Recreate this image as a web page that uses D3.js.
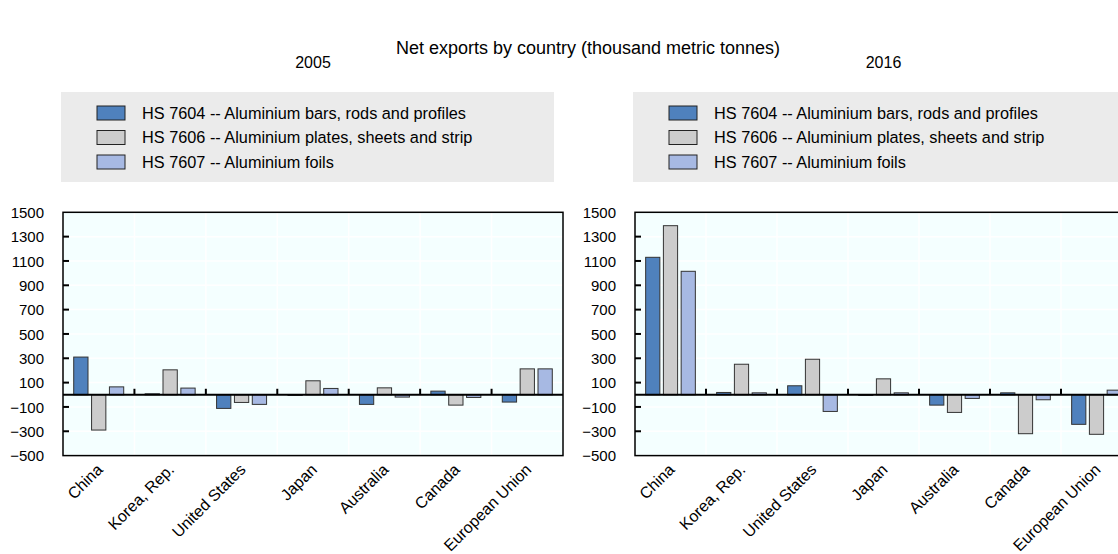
<!DOCTYPE html>
<html>
<head>
<meta charset="utf-8">
<script src="https://cdn.jsdelivr.net/npm/d3@7"></script>
<style>
  html, body { margin: 0; padding: 0; background: #ffffff; }
  svg { display: block; font-family: "Liberation Sans", Arial, sans-serif; }
</style>
</head>
<body>
<svg id="chart" width="1118" height="554"></svg>
<script>
// ---------- DATA ----------
const categories = ["China", "Korea, Rep.", "United States", "Japan", "Australia", "Canada", "European Union"];
const seriesNames = [
  "HS 7604 -- Aluminium bars, rods and profiles",
  "HS 7606 -- Aluminium plates, sheets and strip",
  "HS 7607 -- Aluminium foils"
];
const seriesColors = ["#4F81BD", "#CCCCCC", "#A7B9E3"];
const years = ["2005", "2016"];

// 2005
const hs7604_2005 = [310, 8, -112, -5, -79, 30, -60];
const hs7606_2005 = [-290, 205, -63, 115, 57, -85, 213];
const hs7607_2005 = [65, 55, -79, 52, -19, -22, 213];
// 2016
const hs7604_2016 = [1130, 19, 74, -5, -85, 16, -243];
const hs7606_2016 = [1390, 251, 292, 131, -145, -320, -325];
const hs7607_2016 = [1015, 16, -137, 16, -30, -41, 38];

const yTicks = [1500, 1300, 1100, 900, 700, 500, 300, 100, -100, -300, -500];
const yDomain = [-500, 1500];

const mainTitle = "Net exports by country (thousand metric tonnes)";

const panelsData = [
  [hs7604_2005, hs7606_2005, hs7607_2005],
  [hs7604_2016, hs7606_2016, hs7607_2016]
];

// ---------- LAYOUT ----------
const svg = d3.select("#chart");
const panels = [
  { x: 63, w: 500, year: years[0], data: panelsData[0] },
  { x: 635, w: 497, year: years[1], data: panelsData[1] }
];
const plotTop = 212.3, plotH = 243.3;

svg.append("text")
  .attr("x", 588).attr("y", 54)
  .attr("text-anchor", "middle")
  .attr("font-size", 18)
  .attr("fill", "#000")
  .text(mainTitle);

panels.forEach(p => {
  const g = svg.append("g");
  const x0 = d3.scaleBand().domain(categories).range([p.x, p.x + p.w]).paddingInner(0).paddingOuter(0);
  const bandW = x0.bandwidth();
  const x1 = d3.scaleBand().domain(d3.range(3)).range([bandW * 0.15, bandW * 0.85]).paddingInner(0.2).paddingOuter(0);
  const y = d3.scaleLinear().domain(yDomain).range([plotTop + plotH, plotTop]);

  // subplot title
  g.append("text")
    .attr("x", p.x + p.w / 2).attr("y", 68)
    .attr("text-anchor", "middle")
    .attr("font-size", 16)
    .text(p.year);

  // legend
  const lg = g.append("g");
  lg.append("rect")
    .attr("x", p.x - 2).attr("y", 92)
    .attr("width", 493).attr("height", 90)
    .attr("fill", "#EBEBEB");
  seriesNames.forEach((s, i) => {
    const yy = 106 + i * 24.5;
    lg.append("rect")
      .attr("x", p.x + 34).attr("y", yy)
      .attr("width", 28).attr("height", 14)
      .attr("fill", seriesColors[i])
      .attr("stroke", "#222").attr("stroke-width", 1);
    lg.append("text")
      .attr("x", p.x + 79).attr("y", yy + 12.5)
      .attr("font-size", 16.3)
      .text(s);
  });

  // plot background
  g.append("rect")
    .attr("x", p.x).attr("y", plotTop)
    .attr("width", p.w).attr("height", plotH)
    .attr("fill", "#F4FFFF");

  // horizontal grid
  g.selectAll(".hg").data(yTicks).enter().append("line")
    .attr("x1", p.x).attr("x2", p.x + p.w)
    .attr("y1", d => y(d)).attr("y2", d => y(d))
    .attr("stroke", "#ffffff").attr("stroke-width", 1.5);

  // vertical grid at band boundaries
  const bounds = categories.slice(1).map(c => x0(c));
  g.selectAll(".vg").data(bounds).enter().append("line")
    .attr("x1", d => d).attr("x2", d => d)
    .attr("y1", plotTop).attr("y2", plotTop + plotH)
    .attr("stroke", "#ffffff").attr("stroke-width", 1.5);

  // bars
  p.data.forEach((vals, si) => {
    g.selectAll(".bar" + si).data(vals).enter().append("rect")
      .attr("x", (d, i) => x0(categories[i]) + x1(si))
      .attr("width", x1.bandwidth())
      .attr("y", d => y(Math.max(0, d)))
      .attr("height", d => Math.abs(y(d) - y(0)))
      .attr("fill", seriesColors[si])
      .attr("stroke", "#333").attr("stroke-width", 1);
  });

  // zero line
  g.append("line")
    .attr("x1", p.x).attr("x2", p.x + p.w)
    .attr("y1", y(0)).attr("y2", y(0))
    .attr("stroke", "#000").attr("stroke-width", 2);

  // x ticks at band boundaries (upward from zero line)
  g.selectAll(".xt").data(bounds).enter().append("line")
    .attr("x1", d => d).attr("x2", d => d)
    .attr("y1", y(0)).attr("y2", y(0) - 6)
    .attr("stroke", "#000").attr("stroke-width", 2);

  // frame
  g.append("rect")
    .attr("x", p.x).attr("y", plotTop)
    .attr("width", p.w).attr("height", plotH)
    .attr("fill", "none")
    .attr("stroke", "#000").attr("stroke-width", 1.5);

  // y axis
  const yAxis = d3.axisLeft(y).tickValues(yTicks).tickSize(0).tickPadding(0).tickFormat(d3.format("d"));
  const ya = g.append("g").attr("transform", `translate(${p.x - 19},0)`).call(yAxis);
  ya.select(".domain").remove();
  ya.selectAll("text").attr("font-size", 15).attr("font-family", "'Liberation Sans', Arial, sans-serif").attr("fill", "#000").attr("dy", "0.35em");
  // inward y ticks
  g.selectAll(".yt").data(yTicks.slice(1, -1)).enter().append("line")
    .attr("x1", p.x).attr("x2", p.x + 6)
    .attr("y1", d => y(d)).attr("y2", d => y(d))
    .attr("stroke", "#000").attr("stroke-width", 2);

  // x axis labels
  const xAxis = d3.axisBottom(x0).tickSize(0).tickPadding(0);
  const xa = g.append("g").attr("transform", `translate(0,${plotTop + plotH})`).call(xAxis);
  xa.select(".domain").remove();
  xa.selectAll("text")
    .attr("font-size", 16)
    .attr("font-family", "'Liberation Sans', Arial, sans-serif")
    .attr("fill", "#000")
    .attr("text-anchor", "end")
    .attr("dy", null)
    .attr("transform", "translate(5,15) rotate(-45)");
});
</script>
</body>
</html>
